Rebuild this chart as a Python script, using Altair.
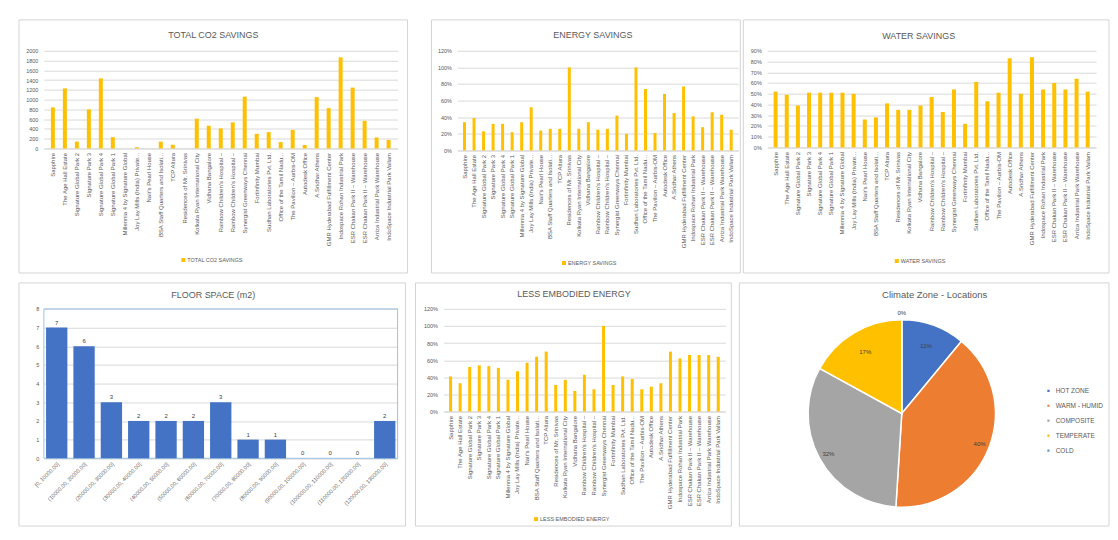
import json
import altair as alt
import pandas as pd

FONT = "Liberation Sans"
GREY = "#595959"
GOLD = "#FFC000"
BLUE = "#4472C4"

projects = [
    "Sapphire", "The Age Hall Estate", "Signature Global Park 2", "Signature Park 3",
    "Signature Global Park 4", "Signature Global Park 1", "Millennia 4 by Signature Global",
    "Joy Lay Mills (India) Private...", "Nair's Pearl House", "BSA Staff Quarters and Isolati...",
    "TCP Altura", "Residences of Mr. Srinivas", "Kolkata Ryan International City",
    "Vidhana Bangalore", "Rainbow Children's Hospital –", "Rainbow Children's Hospital –",
    "Synergist Greenways Chennai", "Fortinfinity Mumbai", "Sudhan Laboratories Pvt. Ltd.",
    "Office of the Tamil Nadu...", "The Pavilion – Aurbis-OM", "Autodesk Office",
    "A.Sridhar Athens", "GMR Hyderabad Fulfillment Center", "Indospace Rohan Industrial Park",
    "ESR Chakan Park II – Warehouse", "ESR Chakan Park II – Warehouse",
    "Arriza Industrial Park Warehouse", "IndoSpace Industrial Park Vallam",
]

co2_savings = [840, 1230, 140, 800, 1435, 230, 0, 25, 0, 140, 75, 0, 610, 465, 410,
               535, 1060, 300, 335, 130, 380, 70, 1050, 825, 1865, 1245, 565, 225, 175]
energy_savings = [0.34, 0.39, 0.23, 0.32, 0.32, 0.22, 0.34, 0.52, 0.24, 0.26, 0.26, 1.00,
                  0.26, 0.34, 0.25, 0.26, 0.42, 0.20, 1.00, 0.74, 0.21, 0.68, 0.45, 0.77,
                  0.41, 0.28, 0.46, 0.43, 0.25]
water_savings = [0.52, 0.49, 0.39, 0.51, 0.51, 0.51, 0.51, 0.50, 0.26, 0.28, 0.41, 0.35,
                 0.35, 0.39, 0.47, 0.33, 0.54, 0.22, 0.61, 0.43, 0.51, 0.83, 0.50, 0.84,
                 0.54, 0.60, 0.54, 0.64, 0.52]
embodied_energy = [0.41, 0.33, 0.52, 0.54, 0.53, 0.51, 0.37, 0.47, 0.57, 0.64, 0.70, 0.31,
                   0.37, 0.24, 0.43, 0.26, 1.00, 0.31, 0.41, 0.38, 0.26, 0.29, 0.33, 0.70,
                   0.62, 0.66, 0.66, 0.66, 0.64]

floor_bins = ["[0, 10000.00]", "(10000.00, 20000.00]", "(20000.00, 30000.00]",
              "(30000.00, 40000.00]", "(40000.00, 50000.00]", "(50000.00, 60000.00]",
              "(60000.00, 70000.00]", "(70000.00, 80000.00]", "(80000.00, 90000.00]",
              "(90000.00, 100000.00]", "(100000.00, 110000.00]", "(110000.00, 120000.00]",
              "(120000.00, 130000.00]"]
floor_counts = [7, 6, 3, 2, 2, 2, 3, 1, 1, 0, 0, 0, 2]

zones = ["HOT ZONE", "WARM - HUMID", "COMPOSITE", "TEMPERATE", "COLD"]
zone_share = [11, 40, 32, 17, 0]
zone_colors = ["#4472C4", "#ED7D31", "#A5A5A5", "#FFC000", "#5B9BD5"]

names_js = json.dumps(projects, ensure_ascii=False)


def frame(x0, x1, y0, y1, stroke="#d4d4d4"):
    return alt.Chart(pd.DataFrame({"a": [0]})).mark_rect(
        fillOpacity=0, stroke=stroke, strokeWidth=1
    ).encode(x=alt.value(x0), x2=alt.value(x1), y=alt.value(y0), y2=alt.value(y1))


def title_mark(text, tx, ty, size=9):
    return alt.Chart(pd.DataFrame({"t": [text]})).mark_text(
        font=FONT, fontSize=size, color=GREY, align="center", baseline="middle"
    ).encode(x=alt.value(tx), y=alt.value(ty), text="t:N")


def legend_marks(label, lx, ly):
    sw = alt.Chart(pd.DataFrame({"a": [0]})).mark_rect(color=GOLD).encode(
        x=alt.value(lx), x2=alt.value(lx + 4), y=alt.value(ly - 2), y2=alt.value(ly + 2))
    tx = alt.Chart(pd.DataFrame({"t": [label]})).mark_text(
        font=FONT, fontSize=5.5, color=GREY, align="left", baseline="middle"
    ).encode(x=alt.value(lx + 6), y=alt.value(ly), text="t:N")
    return [sw, tx]


def bar_panel(values, title, legend_label, w, h, ymax, ticks, fmt, bar_size, rect, title_xy,
              legend_xy, limit):
    df = pd.DataFrame({"idx": list(range(len(values))), "v": values})
    x = alt.X("idx:O", title=None,
              scale=alt.Scale(paddingInner=0, paddingOuter=0.25),
              axis=alt.Axis(labelExpr=f"{names_js}[datum.value]", labelAngle=-90,
                            labelFontSize=6, labelColor=GREY, labelLimit=limit, ticks=False,
                            domainColor="#d9d9d9", labelPadding=4, labelFont=FONT))
    y = alt.Y("v:Q", title=None, scale=alt.Scale(domain=[0, ymax], nice=False),
              axis=alt.Axis(values=ticks, format=fmt, domain=False, ticks=False,
                            gridColor="#d9d9d9", labelFontSize=5.5, labelColor=GREY,
                            labelPadding=6, labelFont=FONT))
    bars = alt.Chart(df).mark_bar(size=bar_size, color=GOLD).encode(x=x, y=y)
    return alt.layer(
        frame(*rect), bars, title_mark(title, *title_xy), *legend_marks(legend_label, *legend_xy)
    ).properties(width=w, height=h)


p_co2 = bar_panel(co2_savings, "TOTAL CO2 SAVINGS", "TOTAL CO2 SAVINGS", 355, 98, 2000,
                  list(range(0, 2001, 200)), "d", 4, (-25, 365, -31, 223), (170, -16),
                  (138, 210), 110)
p_energy = bar_panel(energy_savings, "ENERGY SAVINGS", "ENERGY SAVINGS", 282, 100, 1.2,
                     [i / 10 for i in range(0, 13, 2)], ".0%", 3, (-26, 284, -31, 223),
                     (136, -16), (105, 213), 100)
p_water = bar_panel(water_savings, "WATER SAVINGS", "WATER SAVINGS", 330, 97, 0.9,
                    [i / 10 for i in range(0, 10)], ".0%", 4, (-24, 343, -31, 223),
                    (152, -15), (128, 211), 100)
p_emb = bar_panel(embodied_energy, "LESS EMBODIED ENERGY", "LESS EMBODIED ENERGY", 283, 103, 1.2,
                  [i / 10 for i in range(0, 13, 2)], ".0%", 3, (-28, 289, -26, 218),
                  (131, -15), (91, 211), 100)

# Floor space histogram
fw, fh = 355, 150
fdf = pd.DataFrame({"bin": floor_bins, "n": floor_counts})
fx = alt.X("bin:N", sort=floor_bins, title=None,
           scale=alt.Scale(paddingInner=0.22, paddingOuter=0.08),
           axis=alt.Axis(labelAngle=-45, labelFontSize=5.5, labelColor=GREY, ticks=False,
                         domainColor="#d9d9d9", labelPadding=3, labelFont=FONT, labelLimit=90))
fy = alt.Y("n:Q", title=None, scale=alt.Scale(domain=[0, 8], nice=False),
           axis=alt.Axis(values=list(range(0, 9)), domain=False, ticks=False,
                         gridColor="#d9d9d9", labelFontSize=5.5, labelColor=GREY,
                         labelPadding=5, labelFont=FONT))
fbars = alt.Chart(fdf).mark_bar(color=BLUE).encode(x=fx, y=fy)
flabels = alt.Chart(fdf).mark_text(fontSize=6, color="#404040", dy=-2, font=FONT,
                                   baseline="bottom").encode(x=fx, y=fy, text="n:Q")
p_floor = alt.layer(
    frame(-25, 363, -26, 218), frame(0, fw, 0, fh, stroke="#9DC3E6"), fbars, flabels,
    title_mark("FLOOR SPACE (m2)", 170, -14)
).properties(width=fw, height=fh)

# Pie
pdf = pd.DataFrame({"zone": zones, "share": zone_share, "ord": list(range(len(zones))),
                    "lbl": [f"{s}%" for s in zone_share],
                    "lr": [72, 84, 84, 72, 101]})
arcs = alt.Chart(pdf).mark_arc(outerRadius=94, stroke="white", strokeWidth=1.5).encode(
    theta=alt.Theta("share:Q", stack=True), order=alt.Order("ord:Q"),
    color=alt.Color("zone:N", sort=zones, scale=alt.Scale(domain=zones, range=zone_colors),
                    legend=alt.Legend(title=None, orient="none", legendX=1005, legendY=338,
                                      symbolType="square", symbolSize=14, labelFontSize=6.5,
                                      labelColor=GREY, labelFont=FONT, rowPadding=4, padding=0)),
)
ptext = alt.Chart(pdf).transform_window(
    cum="sum(share)", sort=[alt.SortField("ord")], frame=[None, 0]
).transform_calculate(
    mid="datum.cum - datum.share / 2"
).mark_text(fontSize=6, color="#404040", font=FONT).encode(
    theta=alt.Theta("mid:Q", stack=False, scale=alt.Scale(domain=[0, 100], range=[0, 6.283185])),
    radius=alt.Radius("lr:Q", scale=None), text="lbl:N")
p_pie = alt.layer(
    frame(-58, 313, -26, 218), arcs, ptext,
    title_mark("Climate Zone - Locations", 138, -14, size=9.5)
).resolve_scale(theta="independent").properties(width=210, height=210)

top = alt.hconcat(p_co2, alt.hconcat(p_energy, p_water, spacing=1), spacing=22)
bottom = alt.hconcat(p_floor, alt.hconcat(p_emb, p_pie, spacing=6), spacing=8)

chart = alt.vconcat(top, bottom, spacing=8).properties(
    padding={"left": 10, "top": 10, "right": 0, "bottom": 0},
    background="white",
).configure_view(strokeWidth=0)

chart.save("out.html", embed_options={"renderer": "svg", "actions": False})
